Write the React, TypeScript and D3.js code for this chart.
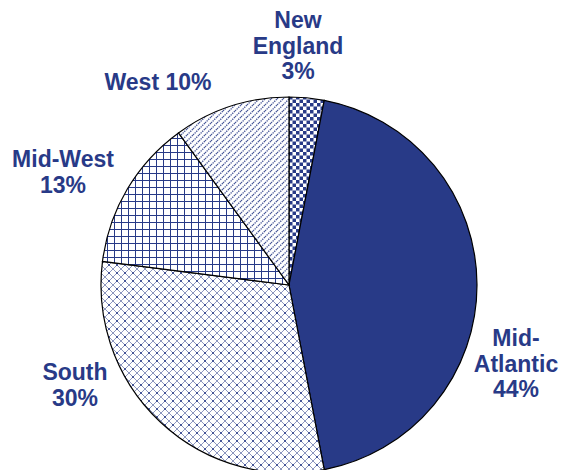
import React from "react";
import * as d3 from "d3";

const categories = ["New England", "Mid-Atlantic", "South", "Mid-West", "West"];
const values = [3, 44, 30, 13, 10];
const labelLines = [
  ["New", "England", "3%"],
  ["Mid-", "Atlantic", "44%"],
  ["South", "30%"],
  ["Mid-West", "13%"],
  ["West 10%"],
];

const BLUE = "#283a87";
const W = 565, H = 470;
const cx = 289, cy = 285, R = 188;

const labelPos: { x: number; y: number; anchor: string }[] = [
  { x: 298, y: 28, anchor: "middle" },
  { x: 516, y: 346, anchor: "middle" },
  { x: 75, y: 380, anchor: "middle" },
  { x: 63, y: 167, anchor: "middle" },
  { x: 158, y: 90, anchor: "middle" },
];

const fills = ["url(#pCheck)", BLUE, "url(#pDiamond)", "url(#pGrid)", "url(#pDiag)"];

export default function App() {
  const pie = d3.pie<number>().sort(null).value((d) => d)(values);
  const arc = d3.arc<d3.PieArcDatum<number>>().innerRadius(0).outerRadius(R);
  return (
    <svg width={W} height={H} style={{ position: "absolute", left: 0, top: 0 }}>
      <defs>
        <pattern id="pCheck" width="7" height="7" patternUnits="userSpaceOnUse">
          <rect width="7" height="7" fill="#fff" />
          <rect width="3.5" height="3.5" fill={BLUE} />
          <rect x="3.5" y="3.5" width="3.5" height="3.5" fill={BLUE} />
        </pattern>
        <pattern id="pGrid" width="7" height="7" patternUnits="userSpaceOnUse">
          <rect width="7" height="7" fill="#fff" />
          <line x1="0" y1="0.5" x2="7" y2="0.5" stroke={BLUE} strokeWidth="1" />
          <line x1="0.5" y1="0" x2="0.5" y2="7" stroke={BLUE} strokeWidth="1" />
        </pattern>
        <pattern id="pDiag" width="6" height="6" patternUnits="userSpaceOnUse">
          <rect width="6" height="6" fill="#fff" />
          <path d="M0,6 L6,0 M-1,1 L1,-1 M5,7 L7,5" stroke={BLUE} strokeWidth="1.4" strokeDasharray="1.4,0.9" opacity="0.85" />
        </pattern>
        <pattern id="pDiamond" width="8" height="8" patternUnits="userSpaceOnUse">
          <rect width="8" height="8" fill="#fff" />
          <path d="M0,0 L8,8 M8,0 L0,8" stroke={BLUE} strokeWidth="0.9" opacity="0.6" />
          <rect x="3" y="3" width="2" height="2" fill={BLUE} opacity="0.7" />
        </pattern>
      </defs>
      <g transform={`translate(${cx},${cy})`}>
        {pie.map((d, i) => (
          <path key={categories[i]} d={arc(d) || ""} fill={fills[i]} stroke="#000" strokeWidth={1.2} />
        ))}
      </g>
      {labelLines.map((lines, i) => (
        <text
          key={categories[i]}
          x={labelPos[i].x}
          y={labelPos[i].y}
          textAnchor={labelPos[i].anchor as any}
          fill={BLUE}
          fontFamily="Liberation Sans, Arial, sans-serif"
          fontWeight="bold"
          fontSize={23}
        >
          {lines.map((l, j) => (
            <tspan key={j} x={labelPos[i].x} dy={j === 0 ? 0 : 25.5}>
              {l}
            </tspan>
          ))}
        </text>
      ))}
    </svg>
  );
}
